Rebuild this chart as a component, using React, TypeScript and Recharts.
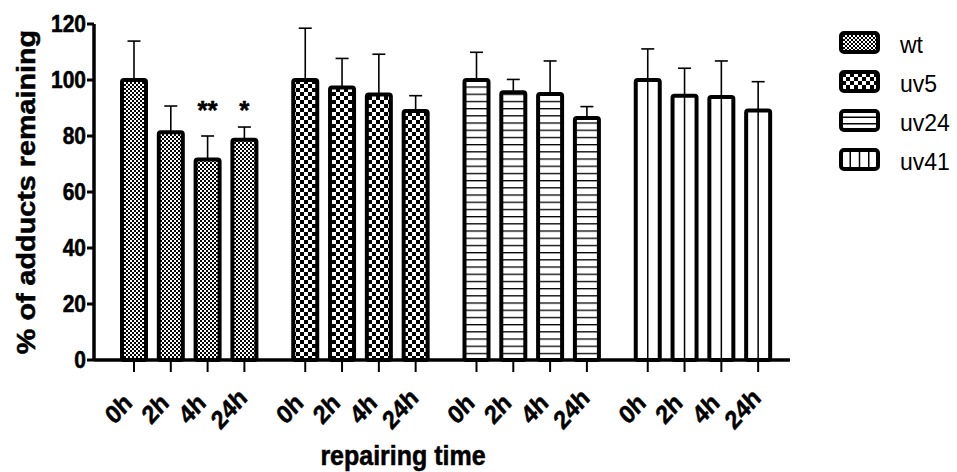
import React from 'react';
import { BarChart, Bar, XAxis, YAxis, ErrorBar, LabelList, Label } from 'recharts';

const FONT = '"Liberation Sans", Arial, Helvetica, sans-serif';

const strains = ['wt', 'uv5', 'uv24', 'uv41'];
const times = ['0h', '2h', '4h', '24h'];

// % of adducts remaining
const wtMean = [100, 81.3, 71.6, 78.7];
const wtErr = [13.9, 9.4, 8.4, 4.5];
const uv5Mean = [100, 97.3, 94.8, 88.9];
const uv5Err = [18.5, 10.4, 14.4, 5.5];
const uv24Mean = [100, 95.6, 95.0, 86.4];
const uv24Err = [9.9, 4.6, 11.8, 4.1];
const uv41Mean = [100, 94.4, 93.9, 89.1];
const uv41Err = [11.1, 9.8, 12.9, 10.3];
const wtSig = ['', '', '**', '*'];

const yTicks = [0, 20, 40, 60, 80, 100, 120];
const starLevel = 91;

const means = [wtMean, uv5Mean, uv24Mean, uv41Mean];
const errs = [wtErr, uv5Err, uv24Err, uv41Err];
const sigs = [wtSig, [], [], []];

const data = strains.map((s, i) => {
  const row: any = { strain: s };
  times.forEach((_, j) => {
    row['m' + j] = means[i][j];
    row['e' + j] = [0, errs[i][j]];
    row['s' + j] = sigs[i][j] || '';
  });
  return row;
});

// bold text in the original looks a touch heavier than Liberation Bold
const boldText = { fontWeight: 'bold', fontFamily: FONT, fill: '#000', stroke: '#000', strokeWidth: 0.5 } as const;

const BarShape = (props: any) => {
  const { x, y, width, height, payload } = props;
  const s = payload.strain;
  return (
    <g>
      <rect x={x} y={y} width={width} height={height} rx={2} fill={`url(#p-${s})`} stroke="#000" strokeWidth={4} />
      {s === 'uv41' && (
        <line x1={x + width / 2} x2={x + width / 2} y1={y} y2={y + height} stroke="#000" strokeWidth={1.5} />
      )}
    </g>
  );
};

const box = (p: any) => {
  const vb = p.viewBox || p;
  return { x: vb.x ?? p.x, y: vb.y ?? p.y, width: vb.width ?? p.width, height: vb.height ?? p.height };
};

const timeTick = (t: string) => (p: any) => {
  const { x, y, width, height } = box(p);
  const cx = x + width / 2;
  const base = y + height;
  return (
    <g>
      <line x1={cx} x2={cx} y1={base} y2={base + 12} stroke="#000" strokeWidth={2} />
      <text
        transform={`translate(${cx - 10},${base + 55}) scale(1,1.12) rotate(-45)`}
        textAnchor="middle"
        fontSize={23}
        {...boldText}
      >
        {t}
      </text>
    </g>
  );
};

const starLabel = (j: number) => (p: any) => {
  if (!p.value) return null;
  const { x, y, width, height } = box(p);
  const mean = data[p.index]['m' + j];
  const k = height / mean;
  const base = y + height;
  return (
    <text x={x + width / 2} y={base - starLevel * k + 14} textAnchor="middle" fontSize={26} {...boldText}>
      {p.value}
    </text>
  );
};

const YTick = (p: any) => (
  <text transform={`translate(${p.x},${p.y}) scale(1,1.13)`} y={7.5} textAnchor="end" fontSize={21} {...boldText}>
    {p.payload?.value}
  </text>
);

const yLabel = (p: any) => {
  const vb = p.viewBox;
  return (
    <text
      transform={`translate(${vb.x + 11},${vb.y + vb.height / 2}) scale(1,1.15) rotate(-90)`}
      textAnchor="middle"
      fontSize={25}
      {...boldText}
    >
      % of adducts remaining
    </text>
  );
};

const xLabel = (p: any) => {
  const vb = p.viewBox;
  return (
    <text
      transform={`translate(${vb.x + 309},${vb.y + 105}) scale(1,1.1)`}
      textAnchor="middle"
      fontSize={25}
      {...boldText}
    >
      repairing time
    </text>
  );
};

const Legend = () => (
  <svg width={119} height={160} style={{ position: 'absolute', left: 839, top: 31 }}>
    <defs>
      <pattern id="lg-wt" width="4" height="4" patternUnits="userSpaceOnUse">
        <rect width="4" height="4" fill="#fff" />
        <rect width="2" height="2" fill="#000" />
        <rect x="2" y="2" width="2" height="2" fill="#000" />
      </pattern>
      <pattern id="lg-uv5" width="8" height="8" patternUnits="userSpaceOnUse" x="3" y="2">
        <rect width="8" height="8" fill="#fff" />
        <rect width="4" height="4" fill="#000" />
        <rect x="4" y="4" width="4" height="4" fill="#000" />
      </pattern>
    </defs>
    {strains.map((s, i) => {
      const top = 2 + i * 39;
      return (
        <g key={s}>
          <rect
            x={2}
            y={top}
            width={37}
            height={19}
            rx={3}
            fill={s === 'wt' ? 'url(#lg-wt)' : s === 'uv5' ? 'url(#lg-uv5)' : '#fff'}
            stroke="#000"
            strokeWidth={4}
          />
          {s === 'uv24' &&
            [1, 2].map((k) => (
              <line key={k} x1={2} x2={39} y1={top + (19 * k) / 3} y2={top + (19 * k) / 3} stroke="#000" strokeWidth={1.5} />
            ))}
          {s === 'uv41' &&
            [1, 2, 3].map((k) => (
              <line key={k} x1={2 + (37 * k) / 4} x2={2 + (37 * k) / 4} y1={top} y2={top + 19} stroke="#000" strokeWidth={1.5} />
            ))}
          <text x={61} y={top + 20} fontSize={23} fontFamily={FONT} fill="#000">
            {s}
          </text>
        </g>
      );
    })}
  </svg>
);

export default function App() {
  return (
    <div style={{ position: 'absolute', left: 0, top: 0, width: 957, height: 472, background: '#fff' }}>
      <BarChart
        width={957}
        height={472}
        data={data}
        margin={{ top: 24, right: 167, bottom: 82, left: 24 }}
        barSize={24}
        barGap={12.8}
      >
        <defs>
          <pattern id="p-wt" width="4" height="4" patternUnits="userSpaceOnUse">
            <rect width="4" height="4" fill="#fff" />
            <rect width="2" height="2" fill="#000" />
            <rect x="2" y="2" width="2" height="2" fill="#000" />
          </pattern>
          <pattern id="p-uv5" width="8" height="8" patternUnits="userSpaceOnUse">
            <rect width="8" height="8" fill="#fff" />
            <rect width="4" height="4" fill="#000" />
            <rect x="4" y="4" width="4" height="4" fill="#000" />
          </pattern>
          <pattern id="p-uv24" width="8" height="7.2" patternUnits="userSpaceOnUse">
            <rect width="8" height="7.2" fill="#fff" />
            <rect width="8" height="1.3" fill="#000" />
          </pattern>
          <pattern id="p-uv41" width="8" height="8" patternUnits="userSpaceOnUse">
            <rect width="8" height="8" fill="#fff" />
          </pattern>
        </defs>
        <XAxis
          dataKey="strain"
          tick={false}
          tickLine={false}
          axisLine={{ stroke: '#000', strokeWidth: 3.5 }}
          padding={{ left: 10, right: 1 }}
          height={30}
          label={<Label content={xLabel} />}
        />
        <YAxis
          domain={[0, 120]}
          ticks={yTicks}
          interval={0}
          width={70}
          tickSize={7}
          tickMargin={1}
          tick={YTick}
          tickLine={{ stroke: '#000', strokeWidth: 3 }}
          axisLine={{ stroke: '#000', strokeWidth: 3.5 }}
          label={<Label content={yLabel} />}
        />
        {times.map((t, j) => (
          <Bar key={t} dataKey={'m' + j} shape={BarShape} isAnimationActive={false}>
            <ErrorBar dataKey={'e' + j} direction="y" width={6.5} strokeWidth={1.6} stroke="#000" />
            <LabelList dataKey={'m' + j} content={timeTick(t)} />
            <LabelList dataKey={'s' + j} content={starLabel(j)} />
          </Bar>
        ))}
      </BarChart>
      <Legend />
    </div>
  );
}
